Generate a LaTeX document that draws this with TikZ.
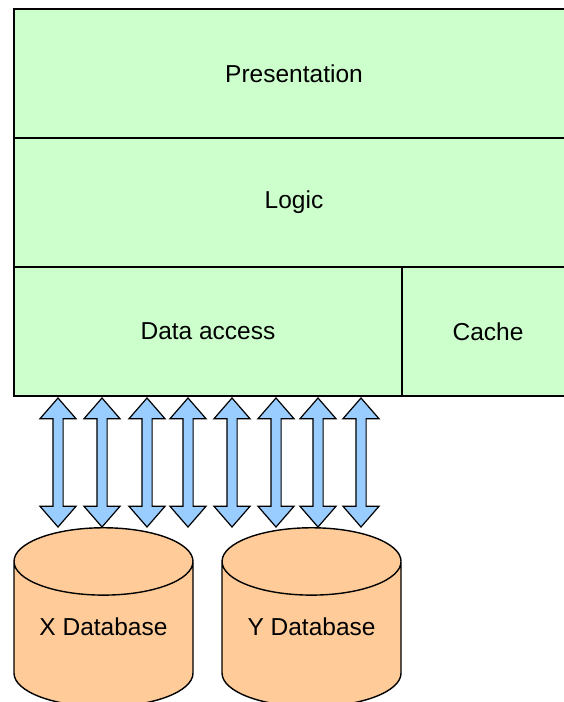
\documentclass[tikz,border=0pt]{standalone}
\usepackage{fontspec}
\setmainfont{Liberation Sans}
\usepackage{tikz}
\usetikzlibrary{positioning,shapes.geometric,shapes.arrows}
\definecolor{layergreen}{HTML}{CCFFCC}
\definecolor{dborange}{HTML}{FFCC99}
\definecolor{linkblue}{HTML}{99CCFF}
\tikzstyle{block} = [rectangle, draw, fill=layergreen, align=center, outer sep=0pt, minimum width=560pt, minimum height=129pt, font=\fontsize{24.5}{28}\selectfont]
\tikzstyle{db} = [cylinder, draw, fill=dborange, shape border rotate=90, aspect=0.5, minimum width=179pt, minimum height=179pt, outer sep=0pt, font=\fontsize{24.5}{28}\selectfont]
\tikzstyle{link} = [double arrow, draw, fill=linkblue, rotate=90, inner sep=4.5pt, minimum height=129pt, double arrow head extend=13pt, double arrow tip angle=82, line width=1.2pt]

\begin{document}
\begin{tikzpicture}[x=1pt, y=-1pt, node distance=129pt, line width=1.4pt]
    \path[use as bounding box, clip] (0,0) rectangle (564,702);
    % Layers
    \node [block] (presentation) at (294,73.5) {Presentation};
    \node [block, below of=presentation] (logic) {Logic};
    \node [block, minimum width=388pt, anchor=north west] (access) at (logic.south west) {Data access};
    \node [block, minimum width=172pt, right=0pt of access] (cache) {Cache};

    % Databases (text lifted a little inside the can)
    \node [db] (xdb) at (103.5,639) {\raisebox{24pt}{X Database}};
    \node [db, right=29pt of xdb] (ydb) {\raisebox{24pt}{Y Database}};

    % links between data access and databases
    \foreach \x [count=\i] in {58,102,147,188,232,276,318,361}
        \node [link] (link\i) at (\x,462.5) {};

\end{tikzpicture}
\end{document}
